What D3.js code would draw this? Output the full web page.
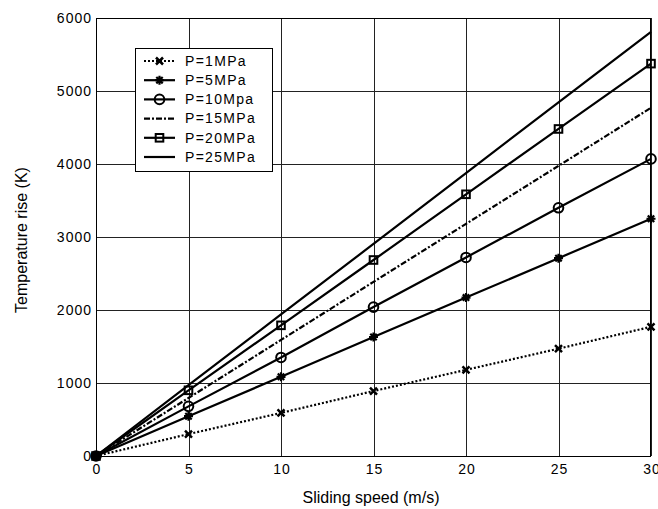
<!DOCTYPE html>
<html><head><meta charset="utf-8">
<script src="https://cdn.jsdelivr.net/npm/d3@7"></script>
<style>body{margin:0;background:#fff}svg{display:block}text{font-family:"Liberation Sans",Arial,sans-serif;fill:#000}</style>
</head><body><svg id="c" width="658" height="509"></svg>
<script>
const speeds = [0, 5, 10, 15, 20, 25, 30];
const p1  = [0, 300, 590, 890, 1180, 1470, 1770];
const p5  = [0, 545, 1085, 1630, 2170, 2710, 3250];
const p10 = [0, 680, 1350, 2040, 2720, 3400, 4070];
const p15 = [0, 795, 1590, 2385, 3180, 3975, 4770];
const p20 = [0, 900, 1790, 2685, 3585, 4480, 5375];
const p25 = [0, 970, 1940, 2905, 3875, 4845, 5810];
const seriesNames = ["P=1MPa", "P=5MPa", "P=10Mpa", "P=15MPa", "P=20MPa", "P=25MPa"];
const xTicks = [0, 5, 10, 15, 20, 25, 30];
const yTicks = [0, 1000, 2000, 3000, 4000, 5000, 6000];

const series = [
  {name: seriesNames[0], values: p1,  dash: "2,2", marker: "x"},
  {name: seriesNames[1], values: p5,  dash: null,  marker: "star"},
  {name: seriesNames[2], values: p10, dash: null,  marker: "circle"},
  {name: seriesNames[3], values: p15, dash: "6,2,2,2", marker: null},
  {name: seriesNames[4], values: p20, dash: null,  marker: "square"},
  {name: seriesNames[5], values: p25, dash: null,  marker: null}
];

const FS = "14px";
const svg = d3.select("#c");
const L = 96, R = 651, T = 18, B = 456;
const x = d3.scaleLinear().domain([0, 30]).range([L, R]);
const y = d3.scaleLinear().domain([0, 6000]).range([B, T]);

// grid
const g = svg.append("g");
g.selectAll(".vx").data(xTicks).join("line")
  .attr("x1", d => Math.round(x(d)) + 0.5).attr("x2", d => Math.round(x(d)) + 0.5)
  .attr("y1", T).attr("y2", B).attr("stroke", "#222").attr("stroke-width", 1);
g.selectAll(".hy").data(yTicks).join("line")
  .attr("y1", d => Math.round(y(d)) + 0.5).attr("y2", d => Math.round(y(d)) + 0.5)
  .attr("x1", L).attr("x2", R).attr("stroke", "#222").attr("stroke-width", 1);

// axes
const xAxis = d3.axisBottom(x).tickValues(xTicks).tickFormat(d3.format("d")).tickSize(0).tickPadding(8);
const yAxis = d3.axisLeft(y).tickValues(yTicks).tickFormat(d3.format("d")).tickSize(0).tickPadding(4);
const gx = svg.append("g").attr("transform", `translate(0,${B})`).call(xAxis);
const gy = svg.append("g").attr("transform", `translate(${L},0)`).call(yAxis);
[gx, gy].forEach(a => {
  a.attr("font-size", null).attr("font-family", null);
  a.select(".domain").remove();
  a.selectAll("text").attr("fill", "#000").style("font-size", FS).style("letter-spacing", "1px")
    .style("font-family", '"Liberation Sans",Arial,sans-serif');
});
gx.selectAll("text").attr("dx", "0.5px");

// frame
svg.append("rect").attr("x", L + 0.5).attr("y", T + 0.5).attr("width", R - L - 1).attr("height", B - T)
  .attr("fill", "none").attr("stroke", "#000").attr("stroke-width", 1);

// titles
svg.append("text").attr("x", 371).attr("y", 503).attr("text-anchor", "middle")
  .style("font-size", "16px").text("Sliding speed (m/s)");
svg.append("text").attr("transform", `translate(27,240) rotate(-90)`).attr("text-anchor", "middle")
  .style("font-size", "16px").text("Temperature rise (K)");

function drawMarker(sel, type, cx, cy) {
  if (type === "x") {
    const s = 3.5;
    sel.append("path").attr("d", `M${cx-s},${cy-s}L${cx+s},${cy+s}M${cx-s},${cy+s}L${cx+s},${cy-s}`)
      .attr("stroke", "#000").attr("stroke-width", 2.5).attr("fill", "none");
  } else if (type === "star") {
    const s = 4.5;
    sel.append("path").attr("d", `M${cx-s},${cy}L${cx+s},${cy}M${cx},${cy-s}L${cx},${cy+s}M${cx-3.2},${cy-3.2}L${cx+3.2},${cy+3.2}M${cx-3.2},${cy+3.2}L${cx+3.2},${cy-3.2}`)
      .attr("stroke", "#000").attr("stroke-width", 2.2).attr("fill", "none");
  } else if (type === "circle") {
    sel.append("circle").attr("cx", cx).attr("cy", cy).attr("r", 4.8)
      .attr("fill", "none").attr("stroke", "#000").attr("stroke-width", 2);
  } else if (type === "square") {
    sel.append("rect").attr("x", cx - 3.8).attr("y", cy - 3.8).attr("width", 7.6).attr("height", 7.6)
      .attr("fill", "none").attr("stroke", "#000").attr("stroke-width", 2);
  }
}

const line = d3.line().x((d, i) => x(speeds[i])).y(d => y(d));
series.forEach(s => {
  svg.append("path").datum(s.values).attr("d", line)
    .attr("fill", "none").attr("stroke", "#000").attr("stroke-width", 2.2)
    .attr("stroke-dasharray", s.dash);
  if (s.marker) {
    const mg = svg.append("g");
    s.values.forEach((v, i) => drawMarker(mg, s.marker, x(speeds[i]), y(v)));
  }
});

// legend
const lg = svg.append("g");
lg.append("rect").attr("x", 135.5).attr("y", 48.5).attr("width", 137).attr("height", 123)
  .attr("fill", "#fff").attr("stroke", "#000").attr("stroke-width", 1);
series.forEach((s, i) => {
  const yy = 61 + i * 19.2;
  lg.append("line").attr("x1", 144).attr("x2", 175).attr("y1", yy).attr("y2", yy)
    .attr("stroke", "#000").attr("stroke-width", 2.2).attr("stroke-dasharray", s.dash);
  if (s.marker) drawMarker(lg, s.marker, 159.5, yy);
  lg.append("text").attr("x", 185).attr("y", yy + 4.8).style("font-size", FS).style("letter-spacing", "1.3px").text(s.name);
});
</script></body></html>
